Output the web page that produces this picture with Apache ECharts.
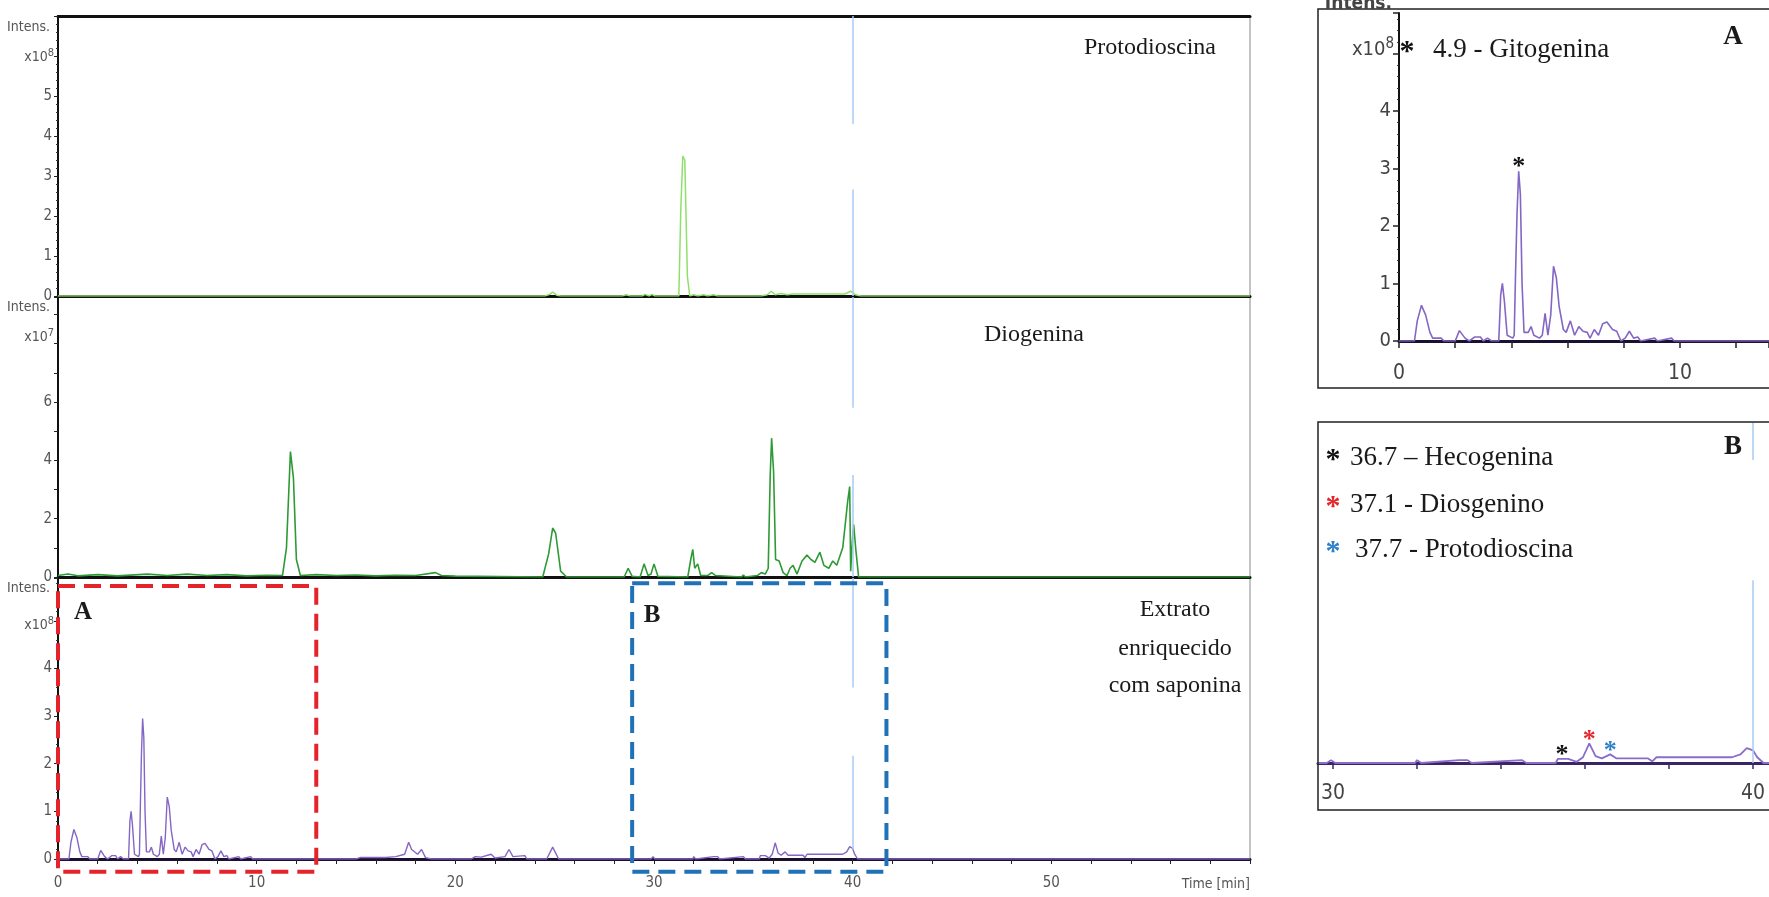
<!DOCTYPE html>
<html>
<head>
<meta charset="utf-8">
<script src="https://cdn.jsdelivr.net/npm/echarts@6/dist/echarts.min.js"></script>
<style>
  html, body { margin: 0; padding: 0; background: #fff; }
  #chart { width: 1769px; height: 897px; }
</style>
</head>
<body>
<div id="chart"></div>
<script>
// time axis labels (min)
const timeLabels = [0, 10, 20, 30, 40, 50];

// Protodioscina trace, intensity x10^8
const protodioscina = [
  [0, 0], [24.5, 0], [24.75, 0.04], [24.9, 0.1], [25.1, 0.02], [25.3, 0],
  [28.4, 0], [28.6, 0.03], [28.8, 0], [29.4, 0], [29.55, 0.04], [29.75, 0], [29.9, 0.04], [30.05, 0],
  [31.25, 0], [31.35, 2.2], [31.45, 3.5], [31.55, 3.4], [31.68, 0.5], [31.8, 0],
  [32.0, 0.03], [32.2, 0], [32.5, 0.03], [32.7, 0], [33.0, 0.03], [33.2, 0],
  [35.4, 0], [35.7, 0.03], [35.9, 0.12], [36.1, 0.03], [36.4, 0.06], [36.7, 0.03],
  [37.0, 0.05], [38.0, 0.05], [39.6, 0.05], [39.9, 0.12], [40.15, 0.03], [40.4, 0], [60, 0]
];

// Diogenina trace, intensity x10^7
const diogenina = [
  [0, 0.05], [0.5, 0.1], [1.0, 0.04], [2.0, 0.08], [3.0, 0.04], [4.5, 0.1], [5.5, 0.05],
  [6.5, 0.1], [7.5, 0.05], [8.5, 0.08], [9.5, 0.04], [10.5, 0.06], [11.3, 0.05],
  [11.5, 1.0], [11.7, 4.3], [11.85, 3.4], [12.0, 0.6], [12.2, 0.05], [13.0, 0.08],
  [14.0, 0.05], [15.0, 0.07], [16.0, 0.04], [17.0, 0.06], [18.0, 0.05], [19.0, 0.15],
  [19.3, 0.05], [20.0, 0.03], [24.4, 0], [24.7, 0.8], [24.9, 1.68], [25.05, 1.5],
  [25.3, 0.2], [25.6, 0], [28.5, 0], [28.7, 0.3], [28.9, 0.02], [29.3, 0], [29.5, 0.45],
  [29.7, 0.05], [29.85, 0.1], [30.0, 0.45], [30.2, 0.02], [31.7, 0], [31.85, 0.6],
  [31.95, 0.95], [32.05, 0.3], [32.2, 0.45], [32.35, 0.05], [32.7, 0.05], [32.9, 0.15],
  [33.1, 0.05], [34.4, 0], [34.5, 0.07], [34.6, 0], [35.2, 0.05], [35.4, 0.15],
  [35.6, 0.1], [35.75, 0.3], [35.85, 3.5], [35.92, 4.76], [36.02, 3.6], [36.12, 0.6],
  [36.3, 0.55], [36.5, 0.15], [36.7, 0.05], [36.85, 0.3], [37.0, 0.4], [37.2, 0.1],
  [37.45, 0.55], [37.7, 0.75], [37.9, 0.6], [38.1, 0.5], [38.35, 0.85], [38.55, 0.4],
  [38.8, 0.3], [39.0, 0.55], [39.2, 0.4], [39.5, 1.0], [39.75, 2.6], [39.85, 3.1],
  [39.9, 0.2], [40.0, 1.4], [40.05, 1.8], [40.15, 1.0], [40.3, 0], [60, 0]
];

// Extrato enriquecido com saponina, intensity x10^8
const extrato = [
  [0, 0], [0.55, 0], [0.65, 0.35], [0.8, 0.62], [0.95, 0.45], [1.1, 0.15], [1.2, 0.05],
  [1.5, 0.05], [1.6, 0], [2.0, 0], [2.15, 0.18], [2.35, 0.05], [2.5, 0], [2.7, 0.07],
  [2.9, 0.07], [3.0, 0], [3.15, 0.05], [3.3, 0], [3.55, 0], [3.62, 0.8], [3.68, 1.0],
  [3.75, 0.7], [3.85, 0.1], [4.05, 0.05], [4.1, 0.1], [4.15, 1.2], [4.2, 2.2],
  [4.26, 2.95], [4.32, 2.55], [4.38, 1.0], [4.45, 0.15], [4.6, 0.15], [4.7, 0.25],
  [4.8, 0.1], [5.0, 0.05], [5.1, 0.1], [5.2, 0.48], [5.3, 0.1], [5.4, 0.45], [5.5, 1.3],
  [5.6, 1.1], [5.7, 0.6], [5.85, 0.2], [5.95, 0.15], [6.1, 0.35], [6.25, 0.1],
  [6.4, 0.25], [6.55, 0.17], [6.7, 0.15], [6.8, 0.05], [6.95, 0.2], [7.1, 0.1],
  [7.25, 0.3], [7.4, 0.33], [7.6, 0.2], [7.75, 0.17], [7.9, 0], [8.05, 0.05],
  [8.2, 0.17], [8.35, 0.05], [8.5, 0.07], [8.6, 0], [9.1, 0.05], [9.2, 0], [9.7, 0.05],
  [9.8, 0], [15.0, 0], [15.2, 0.03], [16.5, 0.03], [17.0, 0.05], [17.45, 0.1],
  [17.65, 0.35], [17.8, 0.2], [18.1, 0.1], [18.3, 0.2], [18.5, 0.03], [18.8, 0],
  [20.8, 0], [21.0, 0.05], [21.3, 0.04], [21.8, 0.1], [22.0, 0.02], [22.5, 0.05],
  [22.7, 0.2], [22.9, 0.05], [23.5, 0.07], [23.6, 0], [24.6, 0], [24.9, 0.25],
  [25.2, 0], [29.85, 0], [29.95, 0.05], [30.05, 0], [31.95, 0], [32.0, 0.05], [32.1, 0],
  [33.0, 0.05], [33.2, 0.05], [33.3, 0], [34.5, 0.05], [34.6, 0], [35.3, 0],
  [35.35, 0.07], [35.6, 0.07], [35.8, 0.02], [35.95, 0.1], [36.1, 0.34], [36.25, 0.12],
  [36.4, 0.08], [36.6, 0.15], [36.75, 0.08], [37.5, 0.08], [37.6, 0.03], [37.7, 0.1],
  [39.5, 0.1], [39.7, 0.15], [39.85, 0.26], [40.0, 0.22], [40.1, 0.1], [40.25, 0], [60, 0]
];

// highlighted time windows (min)
const regionA = [0, 13];
const regionB = [28.9, 41.7];

// light blue cursor at 40 min, visible spans per panel (value units)
const cursorTime = 40;
const protoCursor = [[7, 4.3], [2.66, 0]];
const dioCursor = [[9.6, 5.8], [3.5, 0]];
const extratoCursor = [[5.9, 3.6], [2.17, 0.2]];
const insetBCursor = [[5.93, 5.27], [3.18, 0]];

// peak markers
const starsA = [[4.26, 2.95]];
const starsB = [[35.45, 0.07], [36.1, 0.34], [36.6, 0.15]];
const starColorsB = ['#111111', '#e3262b', '#2f80c8'];
const legendB = ['36.7 – Hecogenina', '37.1 - Diosgenino', '37.7 - Protodioscina'];

const SERIF = '"Liberation Serif", "Times New Roman", serif';
const NARROW = '"Liberation Sans Narrow", "Arial Narrow", "DejaVu Sans Condensed", sans-serif';

const chart = echarts.init(document.getElementById('chart'));

function cursorMark(spans) {
  return {
    silent: true,
    symbol: 'none',
    label: { show: false },
    lineStyle: { color: '#a9cdf2', width: 1.5, type: 'solid' },
    data: spans.map(s => [{ coord: [cursorTime, s[0]] }, { coord: [cursorTime, s[1]] }])
  };
}

function starMark(points, colors, size) {
  return {
    symbol: 'circle',
    symbolSize: 1,
    itemStyle: { color: 'rgba(0,0,0,0)' },
    label: {
      show: true, position: 'top', distance: 0, offset: [0, 10], formatter: '*',
      fontFamily: SERIF, fontWeight: 'bold', fontSize: size
    },
    data: points.map((p, i) => ({ coord: p, label: { color: colors[i] } }))
  };
}

const gridBase = { show: true, borderColor: '#8a8a8a', borderWidth: 1, backgroundColor: '#fff', outerBoundsMode: 'none' };

function mainY(gridIndex, max, labelOk, minor) {
  return {
    type: 'value', gridIndex, min: 0, max, interval: 1,
    axisLine: { show: true, lineStyle: { color: '#111', width: 2 } },
    axisTick: { show: true, length: 4, lineStyle: { color: '#222' } },
    minorTick: { show: minor, splitNumber: 5, length: 2, lineStyle: { color: '#333' } },
    splitLine: { show: false },
    axisLabel: {
      color: '#555', fontFamily: NARROW, fontSize: 15, margin: 6,
      formatter: v => (labelOk(v) ? String(v) : '')
    }
  };
}

const option = {
  animation: false,
  backgroundColor: '#fff',
  grid: [
    Object.assign({ left: 58, top: 16, width: 1192, height: 280 }, gridBase),
    Object.assign({ left: 58, top: 297, width: 1192, height: 280 }, gridBase),
    Object.assign({ left: 58, top: 578, width: 1192, height: 281 }, gridBase),
    { left: 1399, top: 13, right: 0, height: 328, outerBoundsMode: 'none' },
    { left: 1318, top: 422, right: 0, height: 341, outerBoundsMode: 'none' }
  ],
  xAxis: [
    { type: 'value', gridIndex: 0, min: 0, max: 60, axisLine: { lineStyle: { color: '#111', width: 3 } },
      axisTick: { show: false }, axisLabel: { show: false }, splitLine: { show: false } },
    { type: 'value', gridIndex: 0, position: 'top', min: 0, max: 60, axisLine: { lineStyle: { color: '#111', width: 3 } },
      axisTick: { show: false }, axisLabel: { show: false }, splitLine: { show: false } },
    { type: 'value', gridIndex: 1, min: 0, max: 60, axisLine: { lineStyle: { color: '#111', width: 3 } },
      axisTick: { show: false }, axisLabel: { show: false }, splitLine: { show: false } },
    { type: 'value', gridIndex: 2, min: 0, max: 60, interval: 2,
      axisLine: { lineStyle: { color: '#1c1030', width: 3 } },
      axisTick: { show: true, length: 5, lineStyle: { color: '#222' } },
      splitLine: { show: false },
      axisLabel: { color: '#555', fontFamily: NARROW, fontSize: 15, margin: 17,
        formatter: v => (timeLabels.includes(v) ? String(v) : '') } },
    { type: 'value', gridIndex: 3, min: 0, max: 13.17, interval: 2,
      axisLine: { lineStyle: { color: '#1c1030', width: 3 } },
      axisTick: { show: true, length: 7, lineStyle: { color: '#222', width: 1.5 } },
      splitLine: { show: false },
      axisLabel: { color: '#444', fontFamily: NARROW, fontSize: 21, margin: 22,
        formatter: v => (v === 0 || v === 10 ? String(v) : '') } },
    { type: 'value', gridIndex: 4, min: 29.64, max: 40.38,
      axisLine: { lineStyle: { color: '#3b2466', width: 3 } },
      axisTick: { show: true, length: 6, customValues: [30, 32, 34, 36, 38, 40], lineStyle: { color: '#3b2466', width: 1.5 } },
      splitLine: { show: false },
      axisLabel: { color: '#444', fontFamily: NARROW, fontSize: 21, margin: 20, customValues: [30, 40] } }
  ],
  yAxis: [
    mainY(0, 7, v => v <= 5, true),
    mainY(1, 9.6, v => v % 2 === 0 && v <= 6, false),
    mainY(2, 5.9, v => v <= 4, true),
    Object.assign(mainY(3, 5.7, v => v <= 4, true), {
      axisLabel: { color: '#444', fontFamily: NARROW, fontSize: 20, margin: 8,
        formatter: v => (v <= 4 && Number.isInteger(v) ? String(v) : '') },
      axisTick: { show: true, length: 6, lineStyle: { color: '#222', width: 1.5 } }
    }),
    { type: 'value', gridIndex: 4, min: 0, max: 5.93, show: false }
  ],
  series: [
    { type: 'line', name: 'Protodioscina', xAxisIndex: 0, yAxisIndex: 0, data: protodioscina,
      symbol: 'none', lineStyle: { color: '#8fe06a', width: 1.5 }, z: 3,
      markLine: cursorMark(protoCursor) },
    { type: 'line', name: 'Diogenina', xAxisIndex: 2, yAxisIndex: 1, data: diogenina,
      symbol: 'none', lineStyle: { color: '#2e9a35', width: 1.6 }, z: 3,
      markLine: cursorMark(dioCursor) },
    { type: 'line', name: 'Extrato', xAxisIndex: 3, yAxisIndex: 2, data: extrato,
      symbol: 'none', lineStyle: { color: '#8466c4', width: 1.4 }, z: 3,
      markLine: cursorMark(extratoCursor) },
    { type: 'line', name: 'Inset A', xAxisIndex: 4, yAxisIndex: 3, data: extrato,
      symbol: 'none', lineStyle: { color: '#8466c4', width: 1.6 }, z: 3,
      markPoint: starMark(starsA, ['#111'], 26) },
    { type: 'line', name: 'Inset B', xAxisIndex: 5, yAxisIndex: 4, data: extrato,
      symbol: 'none', lineStyle: { color: '#8a6cc9', width: 1.8 }, z: 3,
      markLine: cursorMark(insetBCursor),
      markPoint: starMark(starsB, starColorsB, 26) },
    {
      type: 'custom', name: 'Regions', xAxisIndex: 3, yAxisIndex: 2, clip: false, silent: true, z: 6,
      data: [[regionA[0], regionA[1], 0], [regionB[0], regionB[1], 1]],
      renderItem: (params, api) => {
        const isB = api.value(2) === 1;
        const p0 = api.coord([api.value(0), isB ? 5.79 : 5.73]);
        const p1 = api.coord([api.value(1), -0.27]);
        return {
          type: 'rect',
          shape: { x: p0[0], y: p0[1], width: p1[0] - p0[0], height: p1[1] - p0[1] },
          style: { fill: 'none', stroke: isB ? '#1f72b8' : '#e4232a', lineWidth: 4, lineDash: [17, 9] }
        };
      }
    }
  ],
  graphic: [
    // inset frames
    { type: 'rect', z: 50, shape: { x: 1318, y: 9, width: 470, height: 379 }, style: { fill: 'none', stroke: '#222', lineWidth: 1.5 } },
    { type: 'rect', z: 50, shape: { x: 1318, y: 422, width: 470, height: 388 }, style: { fill: 'none', stroke: '#222', lineWidth: 1.5 } },

    // intensity unit labels
    { type: 'text', z: 50, style: { text: 'Intens.', x: 50, y: 27, align: 'right', verticalAlign: 'middle', font: '14px ' + NARROW, fill: '#555' } },
    { type: 'text', z: 50, style: { text: '{a|x10}{s|8}', x: 54, y: 57, align: 'right', verticalAlign: 'middle', fill: '#555',
      rich: { a: { font: '14px ' + NARROW, fill: '#555' }, s: { font: '11px ' + NARROW, fill: '#555', padding: [0, 0, 8, 0] } } } },
    { type: 'text', z: 50, style: { text: 'Intens.', x: 50, y: 307, align: 'right', verticalAlign: 'middle', font: '14px ' + NARROW, fill: '#555' } },
    { type: 'text', z: 50, style: { text: '{a|x10}{s|7}', x: 54, y: 337, align: 'right', verticalAlign: 'middle', fill: '#555',
      rich: { a: { font: '14px ' + NARROW, fill: '#555' }, s: { font: '11px ' + NARROW, fill: '#555', padding: [0, 0, 8, 0] } } } },
    { type: 'text', z: 50, style: { text: 'Intens.', x: 50, y: 588, align: 'right', verticalAlign: 'middle', font: '14px ' + NARROW, fill: '#555' } },
    { type: 'text', z: 50, style: { text: '{a|x10}{s|8}', x: 54, y: 625, align: 'right', verticalAlign: 'middle', fill: '#555',
      rich: { a: { font: '14px ' + NARROW, fill: '#555' }, s: { font: '11px ' + NARROW, fill: '#555', padding: [0, 0, 8, 0] } } } },
    { type: 'text', z: 50, style: { text: 'Intens.', x: 1392, y: 4, align: 'right', verticalAlign: 'middle', font: 'bold 19px ' + NARROW, fill: '#444' } },
    { type: 'text', z: 50, style: { text: '{a|x10}{s|8}', x: 1394, y: 50, align: 'right', verticalAlign: 'middle', fill: '#444',
      rich: { a: { font: '20px ' + NARROW, fill: '#444' }, s: { font: '15px ' + NARROW, fill: '#444', padding: [0, 0, 12, 0] } } } },

    // time axis name
    { type: 'text', z: 50, style: { text: 'Time [min]', x: 1250, y: 884, align: 'right', verticalAlign: 'middle', font: '14px ' + NARROW, fill: '#555' } },

    // panel names
    { type: 'text', z: 50, style: { text: 'Protodioscina', x: 1150, y: 48, align: 'center', verticalAlign: 'middle', font: '24px ' + SERIF, fill: '#1a1a1a' } },
    { type: 'text', z: 50, style: { text: 'Diogenina', x: 1034, y: 335, align: 'center', verticalAlign: 'middle', font: '24px ' + SERIF, fill: '#1a1a1a' } },
    { type: 'text', z: 50, style: { text: 'Extrato', x: 1175, y: 610, align: 'center', verticalAlign: 'middle', font: '24px ' + SERIF, fill: '#1a1a1a' } },
    { type: 'text', z: 50, style: { text: 'enriquecido', x: 1175, y: 649, align: 'center', verticalAlign: 'middle', font: '24px ' + SERIF, fill: '#1a1a1a' } },
    { type: 'text', z: 50, style: { text: 'com saponina', x: 1175, y: 686, align: 'center', verticalAlign: 'middle', font: '24px ' + SERIF, fill: '#1a1a1a' } },
    { type: 'text', z: 50, style: { text: 'A', x: 83, y: 613, align: 'center', verticalAlign: 'middle', font: 'bold 25px ' + SERIF, fill: '#1a1a1a' } },
    { type: 'text', z: 50, style: { text: 'B', x: 652, y: 616, align: 'center', verticalAlign: 'middle', font: 'bold 25px ' + SERIF, fill: '#1a1a1a' } },

    // inset A text
    { type: 'text', z: 50, style: { text: '*', x: 1407, y: 52, align: 'center', verticalAlign: 'middle', font: 'bold 30px ' + SERIF, fill: '#111' } },
    { type: 'text', z: 50, style: { text: '4.9 - Gitogenina', x: 1433, y: 50, align: 'left', verticalAlign: 'middle', font: '27px ' + SERIF, fill: '#1a1a1a' } },
    { type: 'text', z: 50, style: { text: 'A', x: 1733, y: 37, align: 'center', verticalAlign: 'middle', font: 'bold 27px ' + SERIF, fill: '#1a1a1a' } },

    // inset B text
    { type: 'text', z: 50, style: { text: 'B', x: 1733, y: 447, align: 'center', verticalAlign: 'middle', font: 'bold 27px ' + SERIF, fill: '#1a1a1a' } },
    { type: 'text', z: 50, style: { text: '*', x: 1333, y: 460, align: 'center', verticalAlign: 'middle', font: 'bold 30px ' + SERIF, fill: starColorsB[0] } },
    { type: 'text', z: 50, style: { text: legendB[0], x: 1350, y: 458, align: 'left', verticalAlign: 'middle', font: '27px ' + SERIF, fill: '#1a1a1a' } },
    { type: 'text', z: 50, style: { text: '*', x: 1333, y: 507, align: 'center', verticalAlign: 'middle', font: 'bold 30px ' + SERIF, fill: starColorsB[1] } },
    { type: 'text', z: 50, style: { text: legendB[1], x: 1350, y: 505, align: 'left', verticalAlign: 'middle', font: '27px ' + SERIF, fill: '#1a1a1a' } },
    { type: 'text', z: 50, style: { text: '*', x: 1333, y: 552, align: 'center', verticalAlign: 'middle', font: 'bold 30px ' + SERIF, fill: starColorsB[2] } },
    { type: 'text', z: 50, style: { text: legendB[2], x: 1355, y: 550, align: 'left', verticalAlign: 'middle', font: '27px ' + SERIF, fill: '#1a1a1a' } }
  ]
};

chart.setOption(option);
</script>
</body>
</html>
